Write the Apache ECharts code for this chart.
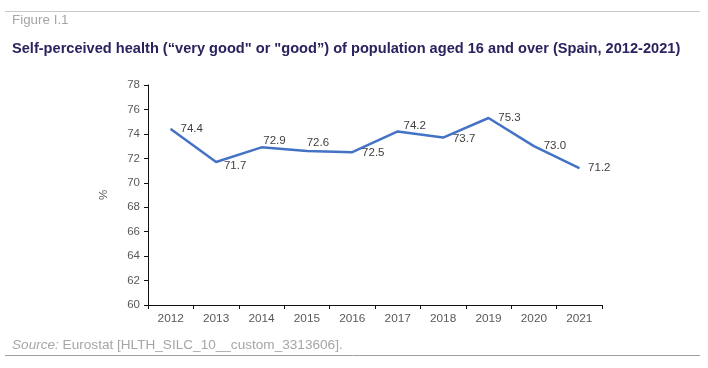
<!DOCTYPE html>
<html>
<head>
<meta charset="utf-8">
<script src="https://cdn.jsdelivr.net/npm/echarts@6/dist/echarts.min.js"></script>
<style>
html,body{margin:0;padding:0;background:#fff;}
#chart{width:708px;height:368px;}
</style>
</head>
<body>
<div id="chart"></div>
<script>
var years = ['2012','2013','2014','2015','2016','2017','2018','2019','2020','2021'];
var values = [74.4, 71.7, 72.9, 72.6, 72.5, 74.2, 73.7, 75.3, 73.0, 71.2];
var yTicks = [60, 62, 64, 66, 68, 70, 72, 74, 76, 78];

// label offsets (style only)
var labelOffsets = [[21,0],[19,4],[13,-7],[11,-8],[21,1],[17,-6],[21,1],[21,0],[21,0],[20,0]];

var chart = echarts.init(document.getElementById('chart'), null, {renderer:'canvas'});
var font = 'Liberation Sans, Arial, sans-serif';

var seriesData = values.map(function(v, i){
  return {
    value: v,
    label: {
      show: true,
      position: 'inside',
      offset: labelOffsets[i],
      formatter: function(p){ return p.value.toFixed(1); }
    }
  };
});

chart.setOption({
  animation: false,
  textStyle: {fontFamily: font},
  title: [
    {text: 'Figure I.1', left: 7, top: 9, textStyle: {fontSize: 13.4, fontWeight: 'normal', color: '#a6a6a6', fontFamily: font}},
    {text: 'Self-perceived health (\u201cvery good" or "good\u201d) of population aged 16 and over (Spain, 2012-2021)', left: 7, top: 36,
      textStyle: {fontSize: 14.6, fontWeight: 'bold', color: '#29235f', fontFamily: font}},
    {text: '{i|Source:} Eurostat [HLTH_SILC_10__custom_3313606].', left: 7, top: 333,
      textStyle: {fontSize: 13.6, fontWeight: 'normal', color: '#a6a6a6', fontFamily: font,
        rich: {i: {fontStyle: 'italic', fontSize: 13.6, color: '#a6a6a6', fontFamily: font}}}}
  ],
  graphic: [
    {type: 'line', shape: {x1: 5, y1: 11.5, x2: 700, y2: 11.5}, style: {stroke: '#c8c8c8', lineWidth: 1}},
    {type: 'line', shape: {x1: 5, y1: 355.5, x2: 700, y2: 355.5}, style: {stroke: '#a0a0a0', lineWidth: 1}}
  ],
  grid: {left: 148, top: 85, right: 106, bottom: 63},
  xAxis: {
    type: 'category',
    data: years,
    boundaryGap: true,
    axisLine: {lineStyle: {color: '#111', width: 1}},
    axisTick: {show: true, length: 4, alignWithLabel: false, lineStyle: {color: '#111'}},
    axisLabel: {color: '#595959', fontSize: 11.8, margin: 8, fontFamily: font},
    splitLine: {show: false}
  },
  yAxis: {
    type: 'value',
    min: yTicks[0],
    max: yTicks[yTicks.length - 1],
    interval: 2,
    name: '%',
    nameLocation: 'middle',
    nameGap: 38,
    nameRotate: 90,
    nameTextStyle: {color: '#595959', fontSize: 11.5, fontFamily: font},
    axisLine: {show: true, lineStyle: {color: '#111', width: 1}},
    axisTick: {show: true, length: 4, lineStyle: {color: '#111'}},
    axisLabel: {color: '#595959', fontSize: 11.5, margin: 8, fontFamily: font},
    splitLine: {show: false}
  },
  series: [{
    type: 'line',
    data: seriesData,
    symbol: 'circle',
    symbolSize: 1,
    showSymbol: true,
    itemStyle: {color: '#4472c4'},
    lineStyle: {color: '#4472c4', width: 2.5},
    label: {color: '#404040', fontSize: 11.5, fontFamily: font},
    emphasis: {disabled: true}
  }]
});
</script>
</body>
</html>
